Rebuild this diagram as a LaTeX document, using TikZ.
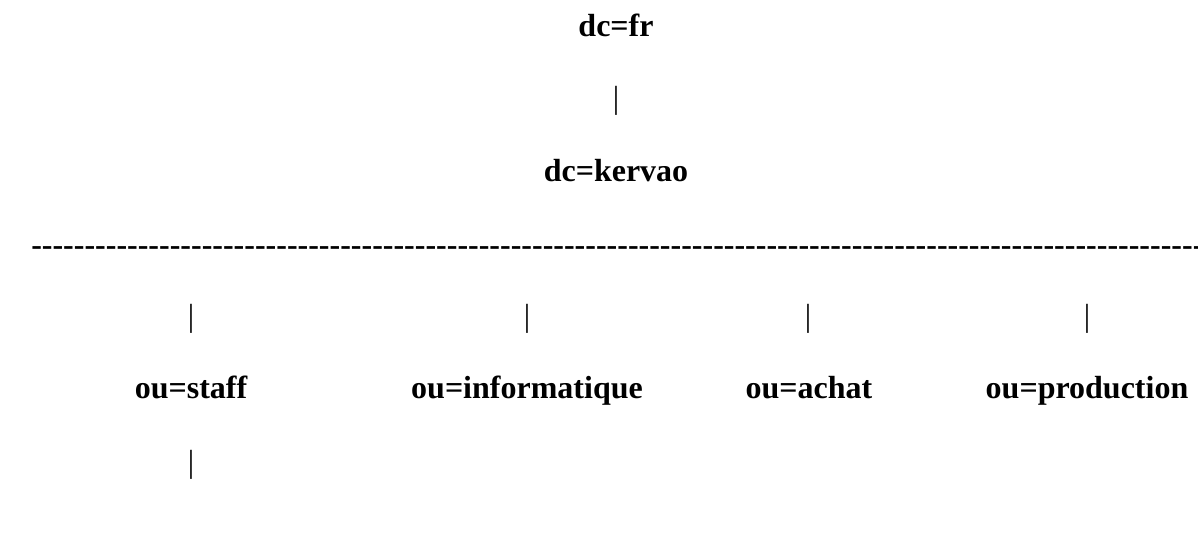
\documentclass[tikz,border=0pt]{standalone}
\usepackage{fontspec}
\setmainfont{Liberation Serif}

\begin{document}
\begin{tikzpicture}[x=0.75pt, y=-0.75pt, entry/.style={inner sep=0pt, anchor=base, font=\fontsize{24}{28}\selectfont\bfseries}, bar/.style={inner sep=0pt, anchor=base, font=\fontsize{24}{28}\selectfont}]
\useasboundingbox (0,0) rectangle (1198,533);

\node[entry] (fr) at (616,36) {dc=fr};
\node[bar] (b0) at (616,108) {|};
\node[entry] (kervao) at (616,181) {dc=kervao};
\node[entry, anchor=base west] (rule) at (31,255) {\foreach \i in {1,...,115}{-{}}};

% the four branches
\node[bar] (b1) at (191,326) {|};
\node[bar] (b2) at (527,326) {|};
\node[bar] (b3) at (808,326) {|};
\node[bar] (b4) at (1087,326) {|};

\node[entry] (staff) at (191,398) {ou=staff};
\node[entry] (info) at (527,398) {ou=informatique};
\node[entry] (achat) at (809,398) {ou=achat};
\node[entry] (prod) at (1087,398) {ou=production};

\node[bar] (b5) at (191,472) {|};
\end{tikzpicture}
\end{document}
